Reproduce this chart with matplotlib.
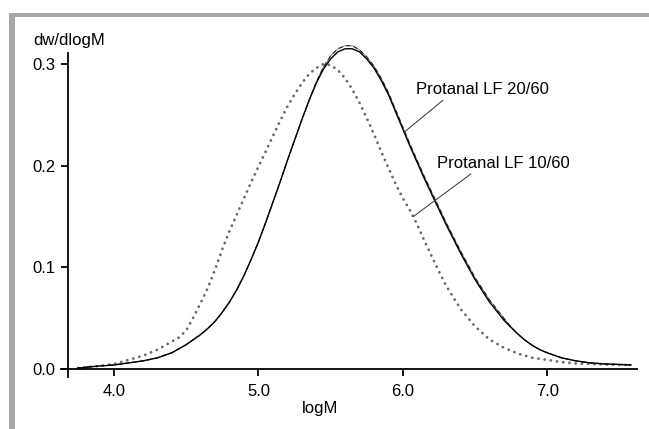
import matplotlib
matplotlib.use("Agg")
import matplotlib.pyplot as plt
from matplotlib.patches import Rectangle

plt.rcParams['font.family'] = ['Liberation Sans', 'DejaVu Sans']

# Protanal LF 20/60 (solid) and the near-identical dashed trace
logm_a = [3.75, 3.9, 4.0, 4.1, 4.2, 4.3, 4.4, 4.5,
          4.6, 4.65, 4.7, 4.75, 4.8, 4.85, 4.9, 4.95, 5.0,
          5.05, 5.1, 5.15, 5.2, 5.25, 5.3, 5.35, 5.4, 5.45, 5.5,
          5.55, 5.6, 5.65, 5.7, 5.75, 5.8, 5.85, 5.9, 5.95, 6.0,
          6.05, 6.1, 6.15, 6.2, 6.25, 6.3, 6.35, 6.4, 6.45, 6.5,
          6.55, 6.6, 6.65, 6.7, 6.75, 6.8, 6.85, 6.9, 6.95, 7.0,
          7.1, 7.2, 7.3, 7.4, 7.5, 7.58]
dw_a = [0.001, 0.003, 0.004, 0.006, 0.008, 0.011, 0.016, 0.024,
        0.034, 0.040, 0.047, 0.056, 0.066, 0.078, 0.092, 0.108, 0.125,
        0.144, 0.164, 0.184, 0.205, 0.225, 0.245, 0.264, 0.281, 0.295, 0.305,
        0.312, 0.315, 0.315, 0.312, 0.305, 0.296, 0.284, 0.270, 0.253, 0.236,
        0.219, 0.203, 0.187, 0.172, 0.157, 0.142, 0.128, 0.114, 0.101, 0.088,
        0.077, 0.066, 0.057, 0.048, 0.041, 0.034, 0.028, 0.023, 0.019, 0.016,
        0.011, 0.008, 0.006, 0.005, 0.0045, 0.004]
dw_b = [0.001, 0.003, 0.004, 0.006, 0.008, 0.011, 0.016, 0.024,
        0.034, 0.040, 0.047, 0.056, 0.066, 0.078, 0.092, 0.108, 0.125,
        0.144, 0.164, 0.184, 0.205, 0.225, 0.245, 0.264, 0.282, 0.297, 0.308,
        0.315, 0.318, 0.318, 0.314, 0.307, 0.298, 0.286, 0.272, 0.255, 0.238,
        0.221, 0.205, 0.189, 0.174, 0.159, 0.144, 0.130, 0.116, 0.103, 0.090,
        0.079, 0.068, 0.059, 0.050, 0.041, 0.034, 0.028, 0.023, 0.019, 0.016,
        0.011, 0.008, 0.006, 0.005, 0.0045, 0.004]

# Protanal LF 10/60 (dotted)
logm_c = [3.75, 3.9, 4.0, 4.1, 4.2, 4.3, 4.4,
          4.45, 4.5, 4.55, 4.6, 4.65, 4.7, 4.75, 4.8, 4.85, 4.9,
          4.95, 5.0, 5.05, 5.1, 5.15, 5.2, 5.25, 5.3, 5.35, 5.4,
          5.45, 5.5, 5.55, 5.6, 5.65, 5.7, 5.75, 5.8, 5.85, 5.9,
          5.95, 6.0, 6.05, 6.1, 6.15, 6.2, 6.25, 6.3,
          6.4, 6.5, 6.6, 6.7, 6.8, 6.9, 7.0, 7.1, 7.2, 7.3, 7.4, 7.5, 7.58]
dw_c = [0.001, 0.003, 0.005, 0.009, 0.013, 0.019, 0.027,
        0.031, 0.038, 0.051, 0.065, 0.080, 0.098, 0.118, 0.136, 0.152, 0.168,
        0.184, 0.199, 0.214, 0.229, 0.244, 0.258, 0.270, 0.281, 0.290, 0.296,
        0.300, 0.299, 0.294, 0.286, 0.275, 0.262, 0.247, 0.231, 0.214, 0.198,
        0.182, 0.168, 0.156, 0.142, 0.126, 0.111, 0.096, 0.082,
        0.059, 0.042, 0.029, 0.021, 0.015, 0.011, 0.009, 0.0068, 0.0055,
        0.005, 0.0045, 0.004, 0.004]

x_ticks = [4.0, 5.0, 6.0, 7.0]
y_ticks = [0.0, 0.1, 0.2, 0.3]

fig = plt.figure(figsize=(6.49, 4.29), dpi=100)
ax = fig.add_axes([0.0935, 0.1161, 0.8875, 0.7821])

ax.plot(logm_c, dw_c, color='#6a6a6a', lw=2.0,
        linestyle=(0, (0.05, 2.2)), dash_capstyle='round', clip_on=False)
ax.plot(logm_a, dw_b, color='#8a8a8a', lw=0.7, clip_on=False)
ax.plot(logm_a, dw_b, color='#222222', lw=0.8, linestyle=(0, (4, 3)), clip_on=False)
ax.plot(logm_a, dw_a, color='black', lw=1.0, clip_on=False)

ax.set_xlim(3.63, 7.62)
ax.set_ylim(-0.01, 0.32)

for s in ['top', 'right']:
    ax.spines[s].set_visible(False)
ax.spines['left'].set_position(('data', 3.68))
ax.spines['bottom'].set_position(('data', 0.0))
ax.spines['left'].set_bounds(-0.008, 0.311)
ax.spines['bottom'].set_bounds(3.63, 7.62)
for s in ['left', 'bottom']:
    ax.spines[s].set_linewidth(1.3)

ax.set_xticks(x_ticks)
ax.set_xticklabels(['%.1f' % v for v in x_ticks])
ax.set_yticks(y_ticks)
ax.set_yticklabels(['%.1f' % v for v in y_ticks])
ax.tick_params(axis='both', direction='out', length=5, width=1.3,
               labelsize=12, colors='black')
ax.tick_params(axis='y', pad=4)
ax.tick_params(axis='x', pad=6)

ax.annotate('Protanal LF 20/60', xy=(6.01, 0.233), xytext=(6.09, 0.2745),
            fontsize=12, va='center', ha='left',
            arrowprops=dict(arrowstyle='-', color='#333333', lw=0.7,
                            shrinkA=0, shrinkB=0, relpos=(0.23, 0.0)))
ax.annotate('Protanal LF 10/60', xy=(6.073, 0.150), xytext=(6.24, 0.202),
            fontsize=12, va='center', ha='left',
            arrowprops=dict(arrowstyle='-', color='#333333', lw=0.7,
                            shrinkA=0, shrinkB=0, relpos=(0.28, 0.0)))

fig.text(33 / 649, 1 - 40 / 429, 'dw/dlogM', fontsize=12, ha='left', va='center')
fig.text(320 / 649, 1 - 409 / 429, 'logM', fontsize=12, ha='center', va='center')

# grey frame bars (top and left)
bar = '#a8a8ab'
fig.patches.append(Rectangle((10 / 649, 1 - 17 / 429), 1, 4 / 429,
                             transform=fig.transFigure, color=bar, lw=0))
fig.patches.append(Rectangle((9 / 649, 0), 6 / 649, 1 - 13 / 429,
                             transform=fig.transFigure, color=bar, lw=0))

fig.savefig('out.png', dpi=100)
